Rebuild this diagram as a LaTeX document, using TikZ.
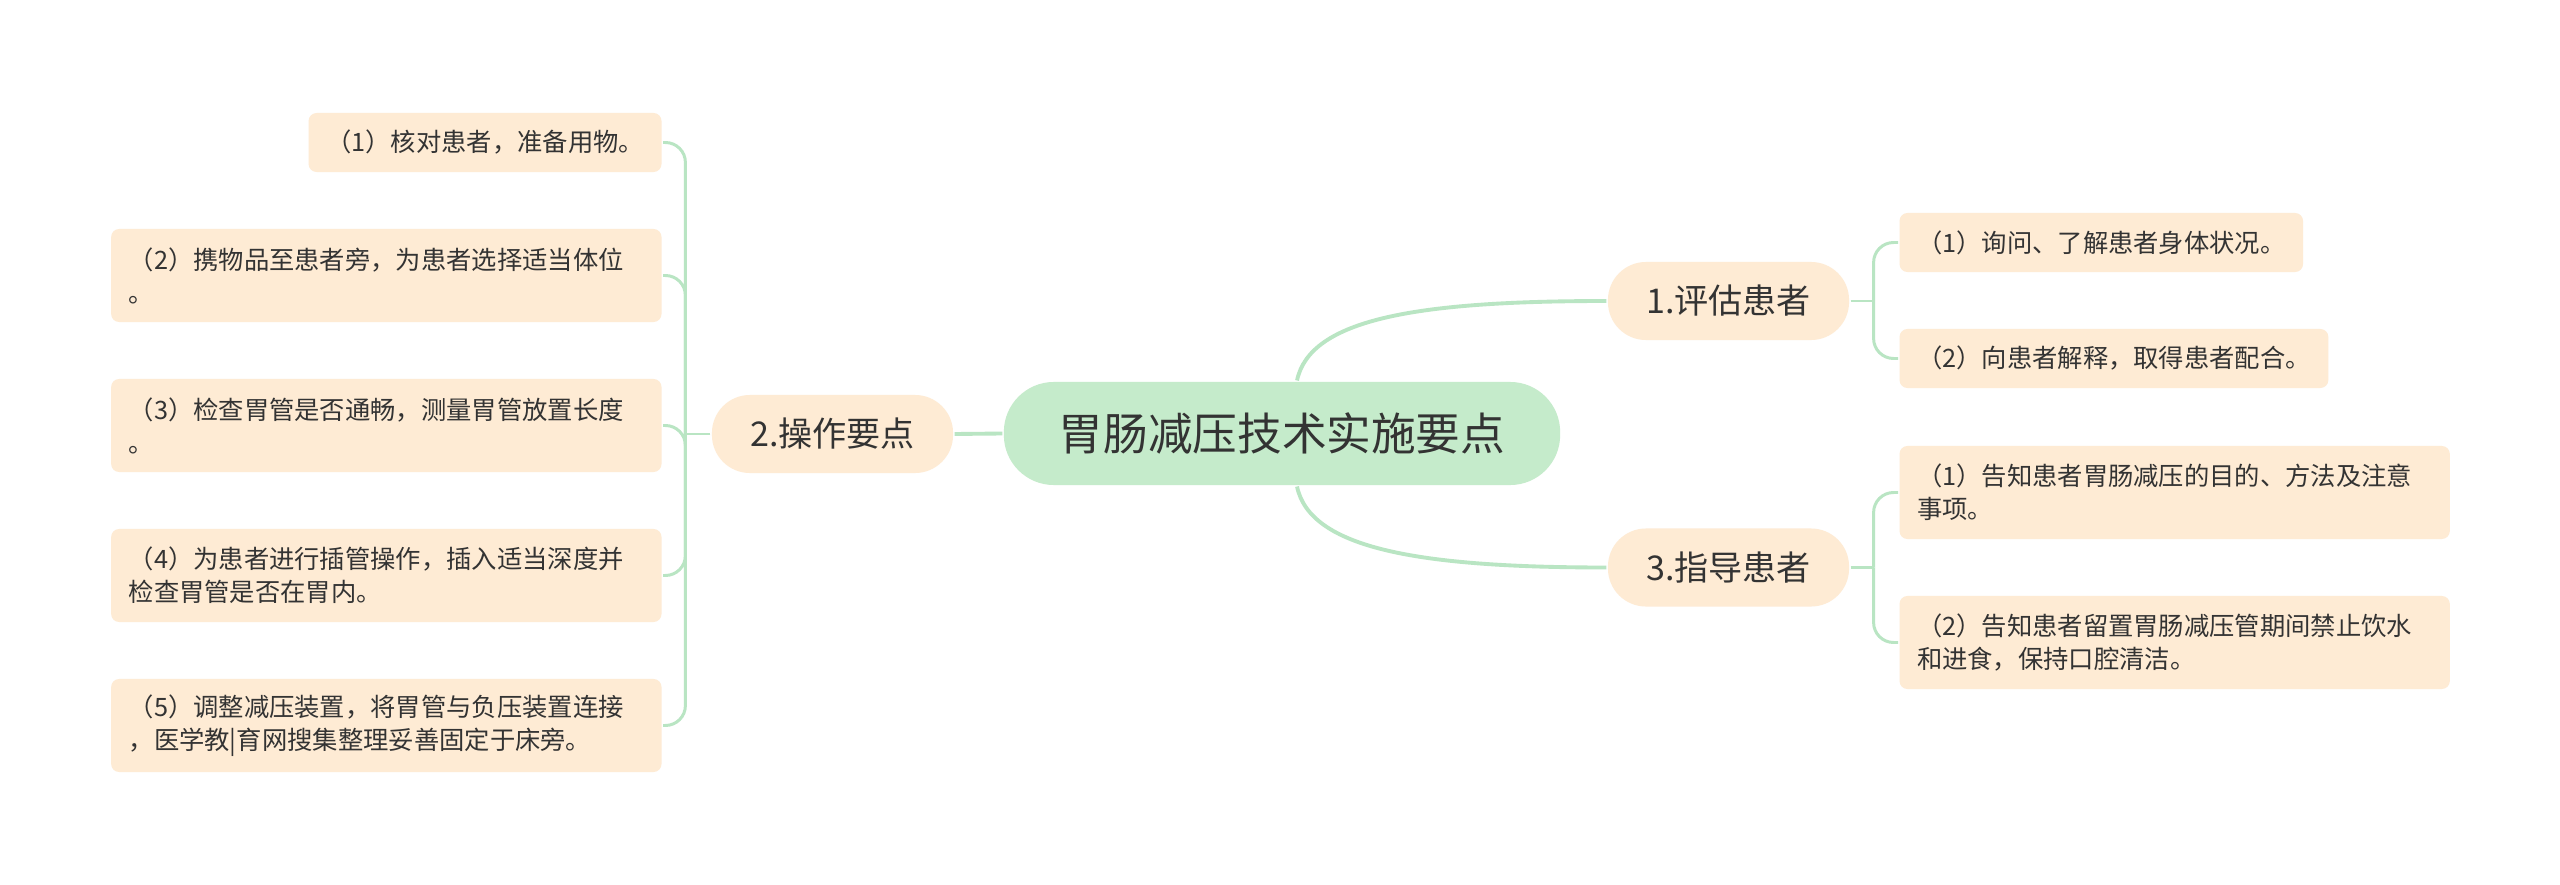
\documentclass[tikz,border=0pt]{standalone}
\usepackage{fontspec}
\setmainfont{Noto Sans CJK SC}
\usetikzlibrary{positioning}
\definecolor{rootgreen}{HTML}{C5EBCB}
\definecolor{peach}{HTML}{FEEBD4}
\definecolor{linkgreen}{HTML}{B9E5C3}
\definecolor{textgray}{HTML}{333333}
\begin{document}
\begin{tikzpicture}[
	x=0.01cm, y=-0.01cm,
	align=center,
	line width=0.3mm,
	colorit/.style={
		fill=#1,
		draw=none,
		text=textgray
	},
	colorit/.default=peach,
	root/.style={colorit=rootgreen, rounded corners=0.5cm, minimum width=5.56cm, minimum height=1.03cm, font=\fontsize{12.7pt}{15pt}\selectfont},
	branch/.style={colorit, rounded corners=0.38cm, minimum width=2.41cm, minimum height=0.78cm, font=\fontsize{9.7pt}{12pt}\selectfont},
	leaf/.style={colorit, rounded corners=0.08cm, minimum height=0.59cm, inner xsep=0.175cm, font=\fontsize{7.2pt}{9.4pt}\selectfont},
	longleaf/.style={leaf, align=left, text width=5.15cm, minimum height=0.93cm},
	link/.style={draw=linkgreen, line width=0.85pt, rounded corners=0.2cm},
	mainlink/.style={draw=linkgreen, line width=1.1pt}
	]
	\fill[white] (0,0) rectangle (2560,885);
	\useasboundingbox (0,0) rectangle (2560,885);

	% root
	\node[root] at (1282,433.5) (root) {胃肠减压技术实施要点};

	% branches
	\node[branch] at (1728.5,301) (assess) {1.评估患者};
	\node[branch] at (1728.5,567.5) (guide) {3.指导患者};
	\node[branch] at (832.5,434) (operate) {2.操作要点};

	\draw[mainlink] (root.west) -- (operate.east);
	\draw[mainlink] ([xshift=0.15cm]root.north) .. controls +(13,-62) and +(-188,0) .. (assess.west);
	\draw[mainlink] ([xshift=0.15cm]root.south) .. controls +(13,62) and +(-188,0) .. (guide.west);

	% operate
	\node[leaf, anchor=east] at (663,142.5) (op1) {（1）核对患者，准备用物。};
	\node[longleaf, anchor=east] at (663,275.5) (op2) {（2）携物品至患者旁，为患者选择适当体位\\。};
	\node[longleaf, anchor=east] at (663,425.5) (op3) {（3）检查胃管是否通畅，测量胃管放置长度\\。};
	\node[longleaf, anchor=east] at (663,575.5) (op4) {（4）为患者进行插管操作，插入适当深度并\\检查胃管是否在胃内。};
	\node[longleaf, anchor=east] at (663,725.5) (op5) {（5）调整减压装置，将胃管与负压装置连接\\，医学教|育网搜集整理妥善固定于床旁。};
	\coordinate[left=0.25cm of operate.west] (opjoin);
	\draw[link] (operate.west) -- (opjoin);
	\foreach \leaf in {op1,op2,op3,op4,op5}
		\draw[link] (opjoin) |- (\leaf.east);

	% assess
	\node[leaf, anchor=west] at (1898,242.5) (as1) {（1）询问、了解患者身体状况。};
	\node[leaf, anchor=west] at (1898,358.5) (as2) {（2）向患者解释，取得患者配合。};
	\coordinate[right=0.23cm of assess.east] (asjoin);
	\draw[link] (assess.east) -- (asjoin);
	\foreach \leaf in {as1,as2}
		\draw[link] (asjoin) |- (\leaf.west);

	% guide
	\node[longleaf, anchor=west] at (1898,492.5) (gd1) {（1）告知患者胃肠减压的目的、方法及注意\\事项。};
	\node[longleaf, anchor=west] at (1898,642.5) (gd2) {（2）告知患者留置胃肠减压管期间禁止饮水\\和进食，保持口腔清洁。};
	\coordinate[right=0.23cm of guide.east] (gdjoin);
	\draw[link] (guide.east) -- (gdjoin);
	\foreach \leaf in {gd1,gd2}
		\draw[link] (gdjoin) |- (\leaf.west);

\end{tikzpicture}
\end{document}
